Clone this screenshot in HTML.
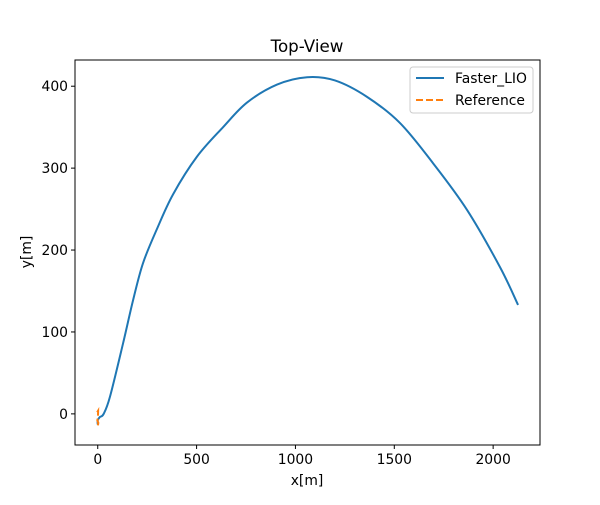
<!DOCTYPE html>
<html><head><meta charset="utf-8"><style>
body{margin:0;background:#fff;font-family:"Liberation Sans","DejaVu Sans",sans-serif}
svg text{font-family:"DejaVu Sans","Liberation Sans",sans-serif;font-size:13.9px;fill:#000}
</style></head><body>
<svg id="chart" width="600" height="500"></svg>
<script>
const xTicks=[0,500,1000,1500,2000];
const yTicks=[0,100,200,300,400];
const lioX=[0,0,10,30,62,128,179,229,300,381,502,634,755,907,1059,1200,1362,1529,1696,1868,2035,2126];
const lioY=[-13,-8,-4,0,21,86,139,184,226,268,314,350,380,402,411,407,387,355,306,249,179,133];
const refX=[-3,2,1,-2,3,1,0];
const refY=[2,4,-4,-8,-11,-14,-16];
const L=75,R=540,T=60,B=445,xmin=-115,xmax=2237,ymin=-38,ymax=432;
const sx=v=>L+(v-xmin)/(xmax-xmin)*(R-L);
const sy=v=>B-(v-ymin)/(ymax-ymin)*(B-T);
const svg=document.getElementById('chart');
const NS='http://www.w3.org/2000/svg';
function mk(t,a,p){const e=document.createElementNS(NS,t);for(const k in a)e.setAttribute(k,a[k]);(p||svg).appendChild(e);return e;}
function smooth(xs,ys){
 const P=xs.map((v,i)=>[sx(v),sy(ys[i])]);
 let d='M'+P[0][0]+','+P[0][1];
 for(let i=0;i<P.length-1;i++){
  const p0=P[Math.max(i-1,0)],p1=P[i],p2=P[i+1],p3=P[Math.min(i+2,P.length-1)];
  const c1=[p1[0]+(p2[0]-p0[0])/6,p1[1]+(p2[1]-p0[1])/6];
  const c2=[p2[0]-(p3[0]-p1[0])/6,p2[1]-(p3[1]-p1[1])/6];
  d+=' C'+c1+' '+c2+' '+p2;
 }
 return d;
}
let e;
e=mk('text',{x:307,y:52,'text-anchor':'middle',style:'font-size:16.7px'});e.textContent='Top-View';


xTicks.forEach(v=>{
 e=mk('line',{x1:sx(v),x2:sx(v),y1:B,y2:B+4,stroke:'#000'});
 
 
 e=mk('text',{x:sx(v),y:B+19,'text-anchor':'middle'});e.textContent=v;
 
 
});
yTicks.forEach(v=>{
 e=mk('line',{x1:L-4,x2:L,y1:sy(v),y2:sy(v),stroke:'#000'});
 
 
 e=mk('text',{x:L-7,y:sy(v)+5,'text-anchor':'end'});e.textContent=v;
 
 
});
e=mk('text',{x:307,y:485,'text-anchor':'middle'});e.textContent='x[m]';


e=mk('text',{x:31,y:252,'text-anchor':'middle',transform:'rotate(-90 31 252)'});e.textContent='y[m]';


e=mk('path',{d:smooth(lioX,lioY),fill:'none',stroke:'#1f77b4','stroke-width':2,'stroke-linejoin':'round'});


e=mk('polyline',{points:refX.map((v,i)=>sx(v)+','+sy(refY[i])).join(' '),fill:'none',stroke:'#ff7f0e','stroke-width':2,'stroke-dasharray':'7,3'});


e=mk('rect',{x:L,y:T,width:R-L,height:B-T,fill:'none',stroke:'#000','stroke-width':1});


const g=mk('g',{});


mk('rect',{x:410,y:67,width:123,height:46,rx:3,fill:'#fff',stroke:'#ccc'},g);
e=mk('line',{x1:416,x2:444,y1:78,y2:78,stroke:'#1f77b4','stroke-width':2},g);


e=mk('text',{x:455,y:83},g);e.textContent='Faster_LIO';
e=mk('line',{x1:416,x2:444,y1:100,y2:100,stroke:'#ff7f0e','stroke-width':2,'stroke-dasharray':'7,3'},g);


e=mk('text',{x:455,y:105},g);e.textContent='Reference';
</script>
</body></html>
